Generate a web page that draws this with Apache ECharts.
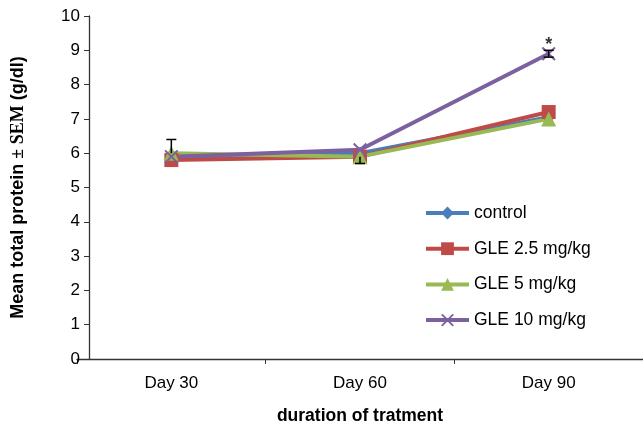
<!DOCTYPE html>
<html><head><meta charset="utf-8">
<script src="https://cdn.jsdelivr.net/npm/echarts@6/dist/echarts.min.js"></script>
<style>html,body{margin:0;padding:0;background:#fff}#c{width:643px;height:433px}</style>
</head><body><div id="c"></div>
<script>
const categories = ['Day 30', 'Day 60', 'Day 90'];
const control = [5.9, 6.0, 7.05];
const gle25 = [5.8, 5.9, 7.2];
const gle5 = [6.0, 5.9, 7.0];
const gle10 = [5.9, 6.1, 8.9];
// error whiskers: [categoryIndex, from (mean), to (cap end)]
const errBars = [[0, 6.0, 6.4], [1, 5.9, 5.7], [2, 8.9, 9.0], [2, 8.9, 8.8]];
const stars = [[2, 9.15]];
const yTicks = [0,1,2,3,4,5,6,7,8,9,10];

const font = 'Liberation Sans, Arial, sans-serif';
const xPath = 'path://M1,0L5,4L9,0L10,1L6,5L10,9L9,10L5,6L1,10L0,9L4,5L0,1Z';

const chart = echarts.init(document.getElementById('c'));
function ser(name, data, color, symbol, size) {
  return { name, type: 'line', data, symbol, symbolSize: size,
    lineStyle: { color, width: 4 }, itemStyle: { color }, z: 3 };
}
chart.setOption({
  animation: false,
  grid: { left: 77, right: -1, top: 16, bottom: 74 },
  legend: {
    orient: 'vertical', left: 419, top: 199, itemWidth: 43, itemHeight: 16, itemGap: 17.7,
    lineStyle: { width: 4 },
    textStyle: { fontFamily: font, fontSize: 17.5, color: '#000' },
    data: ['control', 'GLE 2.5 mg/kg', 'GLE 5 mg/kg', 'GLE 10 mg/kg']
  },
  xAxis: {
    type: 'category', data: categories, boundaryGap: true,
    axisLine: { lineStyle: { color: '#333', width: 1.3 } },
    axisTick: { show: true, length: 5, lineStyle: { color: '#333' } },
    axisLabel: { fontFamily: font, fontSize: 17, color: '#000', margin: 16 },
    name: 'duration of tratment', nameLocation: 'middle', nameGap: 48,
    nameTextStyle: { fontFamily: font, fontSize: 17.5, fontWeight: 'bold', color: '#000' }
  },
  yAxis: {
    type: 'value', min: 0, max: 10, interval: 1, offset: -12,
    axisLine: { show: true, lineStyle: { color: '#333', width: 1.3 } },
    axisTick: { show: true, length: 5, lineStyle: { color: '#333' } },
    splitLine: { show: false },
    axisLabel: { fontFamily: font, fontSize: 17, color: '#000', margin: 9,
      formatter: v => yTicks.includes(v) ? String(v) : '' },
    name: '{a|Mean total protein }{b|± SEM}{a| (g/dl)}', nameLocation: 'middle', nameGap: 62, nameRotate: 90,
    nameTextStyle: { fontSize: 18, rich: {
      a: { fontFamily: font, fontSize: 18, fontWeight: 'bold', color: '#000' },
      b: { fontFamily: 'Liberation Serif, Times New Roman, serif', fontSize: 18, fontWeight: 'bold', color: '#000' }
    } }
  },
  series: [
    ser('control', control, '#4a7ebb', 'diamond', 13),
    ser('GLE 2.5 mg/kg', gle25, '#be4b48', 'rect', 14),
    ser('GLE 5 mg/kg', gle5, '#98b954', 'triangle', 15),
    ser('GLE 10 mg/kg', gle10, '#7d60a0', xPath, 14),
    { type: 'custom', z: 5, data: errBars,
      renderItem: (params, api) => {
        const p0 = api.coord([api.value(0), api.value(1)]);
        const p1 = api.coord([api.value(0), api.value(2)]);
        const x = p0[0];
        const s = { stroke: '#000', lineWidth: 1.5 };
        return { type: 'group', children: [
          { type: 'line', shape: { x1: x, y1: p0[1], x2: x, y2: p1[1] }, style: s },
          { type: 'line', shape: { x1: x - 5, y1: p1[1], x2: x + 5, y2: p1[1] }, style: s }
        ] };
      } },
    { type: 'scatter', data: stars, symbolSize: 0, z: 6,
      label: { show: true, formatter: '*', position: 'inside', fontFamily: font, fontSize: 18, fontWeight: 'bold', color: '#000' } }
  ]
});
</script></body></html>
